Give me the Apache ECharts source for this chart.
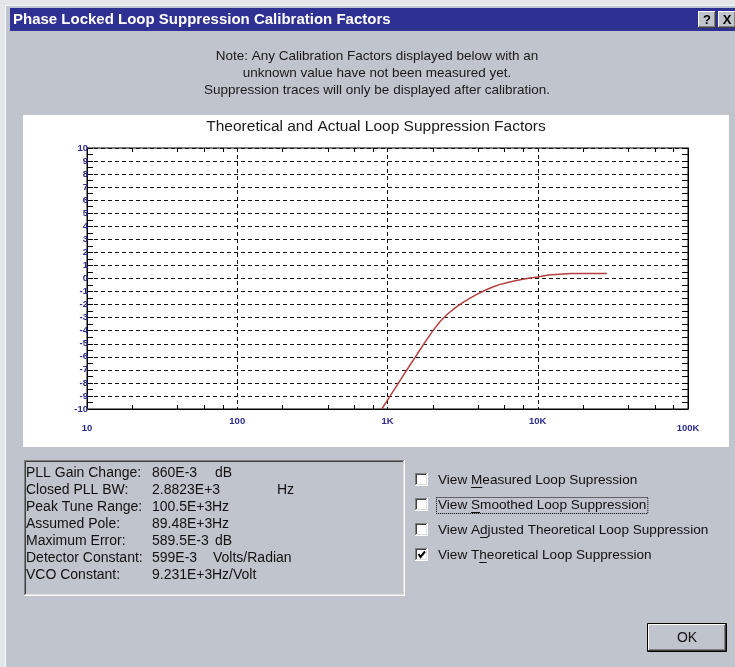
<!DOCTYPE html>
<html><head><meta charset="utf-8">
<script src="https://cdn.jsdelivr.net/npm/echarts@6/dist/echarts.min.js"></script>
<style>html,body{margin:0;padding:0;background:#c0c4cc;overflow:hidden}#c{width:735px;height:667px;}</style>
</head><body><div id="c"></div>
<script>
// ---------- data ----------
const dialogTitle = 'Phase Locked Loop Suppression Calibration Factors';
const chartTitle = 'Theoretical and Actual Loop Suppression Factors';
const noteLines = [
  'Note: Any Calibration Factors displayed below with an',
  'unknown value have not been measured yet.',
  'Suppression traces will only be displayed after calibration.'
];
const freqHz = [916, 1000, 1122, 1259, 1413, 1585, 1778, 1995, 2239, 2512, 2818, 3162, 3548, 3981, 4467, 5012, 5623, 6310, 7079, 7943, 8913, 10000, 11750, 16600, 28840];
const theoreticalDb = [-10, -9.32, -8.42, -7.52, -6.63, -5.75, -4.88, -4.03, -3.3, -2.72, -2.25, -1.85, -1.5, -1.18, -0.9, -0.65, -0.45, -0.3, -0.17, -0.06, 0.03, 0.12, 0.26, 0.38, 0.38];
const xTickValues = [10, 100, 1000, 10000, 100000];
const xTickLabels = ['10', '100', '1K', '10K', '100K'];
const xMinorTickValues = [20, 40, 60, 80, 200, 400, 600, 800, 2000, 4000, 6000, 8000, 20000, 40000, 60000, 80000];
const yMin = -10, yMax = 10, yStep = 1;
const infoLabels = ['PLL Gain Change:', 'Closed PLL BW:', 'Peak Tune Range:', 'Assumed Pole:', 'Maximum Error:', 'Detector Constant:', 'VCO Constant:'];
const infoValues = ['860E-3', '2.8823E+3', '100.5E+3', '89.48E+3', '589.5E-3', '599E-3', '9.231E+3'];
const infoUnits = ['dB', 'Hz', 'Hz', 'Hz', 'dB', 'Volts/Radian', 'Hz/Volt'];
const infoUnitX = [215, 277, 212, 212, 215, 213, 212];
const checkboxLabels = ['View Measured Loop Supression', 'View Smoothed Loop Suppression', 'View Adjusted Theoretical Loop Suppression', 'View Theoretical Loop Suppression'];
const checkboxChecked = [false, false, false, true];
const accelIndex = [5, 5, 6, 6];
const okLabel = 'OK';

// ---------- helpers ----------
const FAM = '"Liberation Sans", Arial, sans-serif';
const BG = '#c0c4cc';
const els = [];
const mctx = document.createElement('canvas').getContext('2d');
function measure(t, font) { mctx.font = font; return mctx.measureText(t).width; }
function txt(x, y, t, font, fill, align, valign, extra) {
  els.push(Object.assign({ type: 'text', x: x, y: y, silent: true,
    style: { text: t, font: font, fill: fill || '#000', align: align || 'left', textAlign: align || 'left',
      verticalAlign: valign || 'middle', textVerticalAlign: valign || 'middle' } }, extra || {}));
}
function line(x1, y1, x2, y2, stroke, w, dash) {
  els.push({ type: 'line', silent: true, shape: { x1: x1, y1: y1, x2: x2, y2: y2 },
    style: { stroke: stroke, lineWidth: w || 1, lineDash: dash || null } });
}
function rect(x, y, w, h, fill, z) {
  els.push({ type: 'rect', silent: true, z: z || 0, shape: { x: x, y: y, width: w, height: h }, style: { fill: fill } });
}
function sunken(x, y, w, h) {
  const r = x + w, b = y + h;
  line(x + 0.5, b, x + 0.5, y + 0.5, '#808080'); line(x, y + 0.5, r, y + 0.5, '#808080');
  line(x + 1.5, b - 1, x + 1.5, y + 1.5, '#404040'); line(x + 1, y + 1.5, r - 1, y + 1.5, '#404040');
  line(r - 0.5, y, r - 0.5, b, '#ffffff'); line(x, b - 0.5, r, b - 0.5, '#ffffff');
  line(r - 1.5, y + 1, r - 1.5, b - 1, '#dfdfdf'); line(x + 1, b - 1.5, r - 1, b - 1.5, '#dfdfdf');
}
function raised(x, y, w, h) {
  const r = x + w, b = y + h;
  line(x + 0.5, b, x + 0.5, y + 0.5, '#ffffff'); line(x, y + 0.5, r, y + 0.5, '#ffffff');
  line(r - 0.5, y, r - 0.5, b, '#404040'); line(x, b - 0.5, r, b - 0.5, '#404040');
  line(r - 1.5, y + 1, r - 1.5, b - 1, '#808080'); line(x + 1, b - 1.5, r - 1, b - 1.5, '#808080');
}

// ---------- dialog chrome ----------
rect(0, 0, 735, 5, '#e3e5e9');
rect(0, 0, 5, 667, '#e3e5e9');
line(5.5, 5, 5.5, 667, '#f7f8fa'); line(5, 5.5, 735, 5.5, '#f7f8fa');
rect(10, 8, 725, 23, '#2e3192');
txt(13, 20, dialogTitle, 'bold 15px ' + FAM, '#ffffff');
rect(698, 11, 18, 17, BG); raised(698, 11, 18, 17);
txt(707, 20, '?', 'bold 13px ' + FAM, '#000', 'center');
rect(718, 11, 18, 17, BG); raised(718, 11, 18, 17);
txt(727, 20, 'X', 'bold 13px ' + FAM, '#000', 'center');
noteLines.forEach(function (t, i) { txt(377, 56 + i * 17, t, '13.5px ' + FAM, '#1a1a1a', 'center'); });
rect(23, 115, 706, 332, '#ffffff', -5);
txt(376, 127, chartTitle, '15.5px ' + FAM, '#1a1a1a', 'center');
sunken(24, 460, 381, 136);
const infoFont = '14px ' + FAM;
infoLabels.forEach(function (t, i) {
  const y = 473 + i * 17;
  txt(26, y, t, infoFont, '#111');
  txt(152, y, infoValues[i], infoFont, '#111');
  txt(infoUnitX[i], y, infoUnits[i], infoFont, '#111');
});
const cbFont = '13.6px ' + FAM;
checkboxLabels.forEach(function (t, i) {
  const cy = 480 + i * 25;
  const bx = 415, by = Math.round(cy - 7);
  rect(bx, by, 13, 13, '#ffffff');
  sunken(bx, by, 13, 13);
  if (checkboxChecked[i]) {
    els.push({ type: 'polyline', silent: true, shape: { points: [[bx + 3.5, by + 6], [bx + 5.5, by + 9], [bx + 10, by + 3.5]] },
      style: { stroke: '#000', lineWidth: 2, fill: null } });
  }
  const tx = 438;
  txt(tx, cy, t, cbFont, '#111');
  const k = accelIndex[i];
  const ux = tx + measure(t.slice(0, k), cbFont);
  const uw = measure(t.charAt(k), cbFont);
  line(ux, cy + 7.5, ux + uw, cy + 7.5, '#111');
  if (i === 1) {
    const w = measure(t, cbFont);
    els.push({ type: 'rect', silent: true, shape: { x: tx - 1.5, y: cy - 7.5, width: w + 3, height: 16 },
      style: { fill: null, stroke: '#000', lineWidth: 1, lineDash: [1, 1] } });
  }
});
rect(647, 623, 80, 29, BG);
els.push({ type: 'rect', silent: true, shape: { x: 647.5, y: 623.5, width: 79, height: 28 }, style: { fill: null, stroke: '#000', lineWidth: 1 } });
raised(648, 624, 78, 27);
txt(687, 638, okLabel, '14px ' + FAM, '#111', 'center');

// ---------- chart ----------
const lblFont = { color: '#2b2b8f', fontSize: 9.5, fontWeight: 'bold', fontFamily: FAM };
function xLabel(v) {
  let idx = 0;
  xTickValues.forEach(function (tv, i) { if (Math.abs(Math.log10(tv) - Math.log10(v)) < 1e-6) idx = i; });
  const low = (idx === 0 || idx === xTickValues.length - 1);
  return (low ? '{lo|' : '{n|') + xTickLabels[idx] + '}';
}
const chart = echarts.init(document.getElementById('c'), null, { renderer: 'canvas' });
chart.setOption({
  animation: false,
  backgroundColor: BG,
  graphic: { elements: els },
  grid: { left: 87, top: 148, width: 601, height: 261, show: true, borderColor: '#000', borderWidth: 1, backgroundColor: 'transparent' },
  xAxis: [{
    type: 'log', logBase: 10, min: 10, max: 100000, position: 'bottom',
    axisLine: { show: true, onZero: false, lineStyle: { color: '#000', width: 1 } },
    axisTick: { show: false },
    splitLine: { show: true, lineStyle: { color: '#111', width: 1, type: [4, 3] } },
    axisLabel: Object.assign({ margin: 7, formatter: xLabel, showMinLabel: true, showMaxLabel: true,
      rich: { lo: Object.assign({ padding: [7, 0, 0, 0] }, lblFont), n: Object.assign({}, lblFont) } }, lblFont)
  }],
  yAxis: [{
    type: 'value', min: yMin, max: yMax, interval: yStep, position: 'left',
    axisLine: { show: true, onZero: false, lineStyle: { color: '#000', width: 1 } },
    axisTick: { show: true, inside: true, length: 6, lineStyle: { color: '#000' } },
    minorTick: { show: true, splitNumber: 2, length: 6, lineStyle: { color: '#000' } },
    splitLine: { show: true, lineStyle: { color: '#111', width: 1, type: [4, 3] } },
    axisLabel: Object.assign({ margin: -1, align: 'right' }, lblFont)
  }, {
    type: 'value', min: yMin, max: yMax, interval: yStep, position: 'right',
    axisLine: { show: true, onZero: false, lineStyle: { color: '#000', width: 1 } },
    axisTick: { show: true, inside: true, length: 6, lineStyle: { color: '#000' } },
    minorTick: { show: true, splitNumber: 2, length: 6, lineStyle: { color: '#000' } },
    splitLine: { show: false },
    axisLabel: { show: false }
  }],
  series: [{
    type: 'custom', name: 'minorTicks', xAxisIndex: 0, yAxisIndex: 0, silent: true, z: 3,
    data: xMinorTickValues.map(function (v) { return [v, yMin]; }),
    encode: { x: 0, y: 1 },
    renderItem: function (params, api) {
      const v = api.value(0);
      const b = api.coord([v, yMin]);
      const t = api.coord([v, yMax]);
      const x = Math.round(b[0]) + 0.5;
      return { type: 'group', children: [
        { type: 'line', shape: { x1: x, y1: b[1], x2: x, y2: b[1] - 4 }, style: { stroke: '#000', lineWidth: 1 } },
        { type: 'line', shape: { x1: x, y1: t[1], x2: x, y2: t[1] + 4 }, style: { stroke: '#000', lineWidth: 1 } }
      ] };
    }
  }, {
    type: 'line', name: 'Theoretical', xAxisIndex: 0, yAxisIndex: 0, z: 4,
    data: freqHz.map(function (f, i) { return [f, theoreticalDb[i]]; }),
    showSymbol: false, smooth: false,
    lineStyle: { color: '#b3403e', width: 1.5 }
  }]
});
</script>
</body></html>
